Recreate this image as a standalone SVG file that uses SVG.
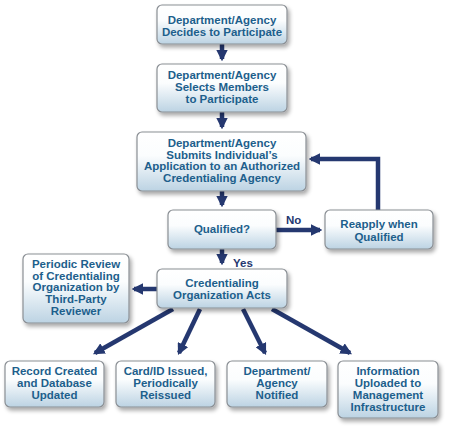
<svg xmlns="http://www.w3.org/2000/svg" width="452" height="431" viewBox="0 0 452 431">
<defs>
<linearGradient id="g" x1="0" y1="0" x2="0" y2="1">
<stop offset="0" stop-color="#ffffff"/>
<stop offset="0.4" stop-color="#fbfdfe"/>
<stop offset="1" stop-color="#bcd3e3"/>
</linearGradient>
<filter id="sh" x="-20%" y="-20%" width="150%" height="160%">
<feGaussianBlur in="SourceAlpha" stdDeviation="2"/>
<feOffset dx="2" dy="3"/>
<feComponentTransfer><feFuncA type="linear" slope="0.35"/></feComponentTransfer>
<feMerge><feMergeNode/><feMergeNode in="SourceGraphic"/></feMerge>
</filter>
<marker id="ah" viewBox="0 0 10 10" refX="8" refY="5" markerWidth="2.6" markerHeight="2.6" orient="auto" markerUnits="strokeWidth">
<path d="M0,0 L10,5 L0,10 z" fill="#253870"/>
</marker>
</defs>
<style>
.box{fill:url(#g);stroke:#8a8f94;stroke-width:1.2;filter:url(#sh)}
.t{font-family:"Liberation Sans",Arial,sans-serif;font-weight:bold;font-size:11.5px;fill:#1d5f8c;text-anchor:middle}
.l{font-family:"Liberation Sans",Arial,sans-serif;font-weight:bold;font-size:11.5px;fill:#253870}
.c{stroke:#253870;stroke-width:4.5;fill:none;marker-end:url(#ah)}
</style>
<g id="connectors">
<path class="c" d="M222,44 V59"/>
<path class="c" d="M222,112 V127"/>
<path class="c" d="M222,191 V205"/>
<path class="c" d="M276,230 H320"/>
<path class="c" d="M378,210 V159 H311"/>
<path class="c" d="M222,249 V263"/>
<path class="c" d="M157,289 H134"/>
<path class="c" d="M173,309 L95,353"/>
<path class="c" d="M200,309 L179,353"/>
<path class="c" d="M243,309 L265,353"/>
<path class="c" d="M272,309 L350,353"/>
<text class="l" x="286" y="224">No</text>
<text class="l" x="233" y="267">Yes</text>
</g>
<g id="n1"><rect class="box" x="157" y="5" width="130" height="39" rx="5"/>
<text class="t" x="222" y="24">Department/Agency</text><text class="t" x="222" y="36">Decides to Participate</text></g>
<g id="n2"><rect class="box" x="157" y="64" width="130" height="48" rx="5"/>
<text class="t" x="222" y="79">Department/Agency</text><text class="t" x="222" y="91">Selects Members</text><text class="t" x="222" y="103">to Participate</text></g>
<g id="n3"><rect class="box" x="137" y="132" width="169" height="59" rx="5"/>
<text class="t" x="222" y="147">Department/Agency</text><text class="t" x="222" y="159">Submits Individual’s</text><text class="t" x="222" y="170">Application to an Authorized</text><text class="t" x="222" y="182">Credentialing Agency</text></g>
<g id="n4"><rect class="box" x="168" y="210" width="108" height="39" rx="5"/>
<text class="t" x="222" y="233">Qualified?</text></g>
<g id="n5"><rect class="box" x="325" y="210" width="108" height="39" rx="5"/>
<text class="t" x="379" y="228">Reapply when</text><text class="t" x="379" y="241">Qualified</text></g>
<g id="n6"><rect class="box" x="157" y="269" width="130" height="39" rx="5"/>
<text class="t" x="222" y="287">Credentialing</text><text class="t" x="222" y="299">Organization Acts</text></g>
<g id="n7"><rect class="box" x="23" y="254" width="106" height="69" rx="5"/>
<text class="t" x="76" y="268">Periodic Review</text><text class="t" x="76" y="280">of Credentialing</text><text class="t" x="76" y="291">Organization by</text><text class="t" x="76" y="303">Third-Party</text><text class="t" x="76" y="315">Reviewer</text></g>
<g id="n8"><rect class="box" x="5" y="361" width="99" height="46" rx="5"/>
<text class="t" x="54.5" y="375">Record Created</text><text class="t" x="54.5" y="387">and Database</text><text class="t" x="54.5" y="399">Updated</text></g>
<g id="n9"><rect class="box" x="116" y="361" width="99" height="46" rx="5"/>
<text class="t" x="165.5" y="375">Card/ID Issued,</text><text class="t" x="165.5" y="387">Periodically</text><text class="t" x="165.5" y="399">Reissued</text></g>
<g id="n10"><rect class="box" x="227" y="361" width="100" height="46" rx="5"/>
<text class="t" x="277" y="375">Department/</text><text class="t" x="277" y="387">Agency</text><text class="t" x="277" y="399">Notified</text></g>
<g id="n11"><rect class="box" x="338" y="361" width="100" height="57" rx="5"/>
<text class="t" x="388" y="375">Information</text><text class="t" x="388" y="387">Uploaded to</text><text class="t" x="388" y="399">Management</text><text class="t" x="388" y="411">Infrastructure</text></g>
</svg>
